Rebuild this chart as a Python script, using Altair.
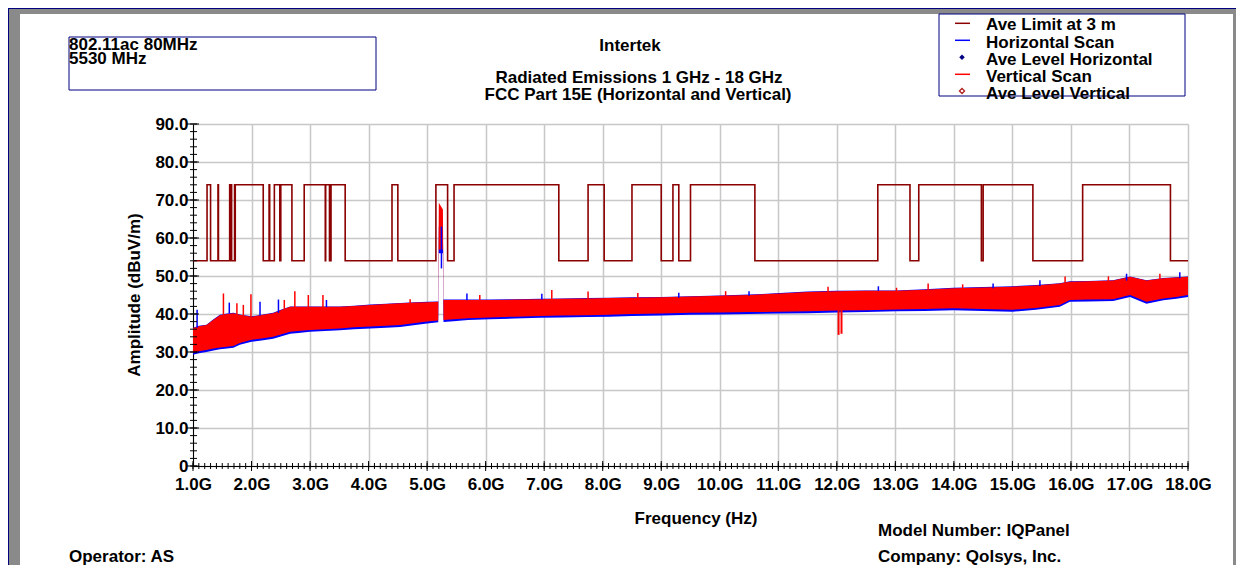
import altair as alt
import pandas as pd

# ------------------------------------------------------------------ data
# Average limit at 3 m (dBuV/m): step changes at restricted-band edges (GHz)
limit_freq = [1.0, 1.24, 1.3, 1.427, 1.435, 1.6265, 1.6455, 1.6465, 1.66, 1.71, 1.7188, 1.7222,
              2.2, 2.3, 2.31, 2.39, 2.4835, 2.5, 2.69, 2.9, 3.26, 3.267, 3.332, 3.339, 3.3458, 3.358,
              3.6, 4.4, 4.5, 5.15, 5.35, 5.46, 7.25, 7.75, 8.025, 8.5, 9.0, 9.2, 9.3, 9.5,
              10.6, 12.7, 13.25, 13.4, 14.47, 14.5, 15.35, 16.2, 17.7, 18.0]
limit_level = [54, 74, 54, 74, 54, 74, 54, 74, 54, 74, 54, 74,
               54, 74, 54, 74, 54, 74, 54, 74, 54, 74, 54, 74, 54, 74,
               54, 74, 54, 74, 54, 74, 54, 74, 54, 74, 54, 74, 54, 74,
               54, 74, 54, 74, 54, 74, 54, 74, 54, 54]

# Scan envelopes (GHz, dBuV/m)
scan_freq = [1.0, 1.1, 1.23, 1.35, 1.46, 1.58, 1.69, 1.8, 2.0, 2.2,
             2.37, 2.5, 2.66, 2.8, 3.0, 3.25, 3.51, 3.75, 4.03, 4.3,
             4.54, 4.8, 5.0, 5.19, 5.2, 5.27, 5.28, 5.45, 5.7, 6.07,
             6.5, 6.93, 7.3, 7.73, 8.1, 8.5, 9.0, 9.5, 10.0, 10.5,
             11.03, 11.5, 12.0, 12.5, 13.02, 13.5, 13.99, 14.5, 15.0, 15.4,
             15.81, 15.98, 16.3, 16.72, 17.01, 17.29, 17.58, 17.8, 18.0]
vert_lo = [29.8, 30.2, 30.5, 30.9, 31.2, 31.4, 31.6, 32.4, 33.2, 33.6,
           34.0, 34.6, 35.3, 35.5, 35.8, 36.0, 36.2, 36.5, 36.7, 36.9,
           37.1, 37.6, 38.0, 38.3, 57.0, 57.0, 38.4, 38.6, 38.9, 39.1,
           39.3, 39.5, 39.6, 39.7, 39.8, 40.0, 40.1, 40.3, 40.4, 40.5,
           40.6, 40.7, 40.9, 41.0, 41.2, 41.3, 41.5, 41.3, 41.1, 41.6,
           42.4, 43.7, 43.8, 43.9, 45.0, 43.2, 44.1, 44.5, 45.0]
vert_hi = [36.3, 36.8, 37.1, 38.5, 39.7, 40.0, 40.2, 39.8, 39.3, 39.8,
           40.2, 41.0, 41.9, 41.9, 41.9, 41.9, 41.9, 42.1, 42.4, 42.6,
           42.8, 43.0, 43.1, 43.2, 69.3, 67.5, 43.7, 43.7, 43.7, 43.7,
           43.8, 43.9, 44.0, 44.1, 44.2, 44.3, 44.4, 44.6, 44.8, 45.0,
           45.4, 45.8, 46.0, 46.1, 46.1, 46.4, 46.8, 47.0, 47.2, 47.5,
           48.0, 48.5, 48.6, 48.8, 49.8, 48.8, 49.4, 49.6, 49.8]
horiz_lo = [29.3, 29.7, 30.0, 30.4, 30.7, 30.9, 31.1, 31.9, 32.7, 33.1,
            33.5, 34.1, 34.8, 35.0, 35.3, 35.5, 35.7, 36.0, 36.2, 36.4,
            36.6, 37.1, 37.5, 37.8, 56.0, 56.0, 37.9, 38.1, 38.4, 38.6,
            38.8, 39.0, 39.1, 39.2, 39.3, 39.5, 39.6, 39.8, 39.9, 40.0,
            40.1, 40.2, 40.4, 40.5, 40.7, 40.8, 41.0, 40.8, 40.6, 41.1,
            41.9, 43.2, 43.3, 43.4, 44.5, 42.7, 43.6, 44.0, 44.5]
horiz_hi = [36.4, 36.9, 37.2, 38.6, 39.8, 40.1, 40.3, 39.9, 39.4, 39.9,
            40.3, 41.1, 42.0, 42.0, 42.0, 42.0, 42.0, 42.2, 42.5, 42.7,
            42.9, 43.1, 43.2, 43.3, 63.0, 62.0, 43.8, 43.8, 43.8, 43.8,
            43.9, 44.0, 44.1, 44.2, 44.3, 44.4, 44.5, 44.7, 44.9, 45.1,
            45.5, 45.9, 46.1, 46.2, 46.2, 46.5, 46.9, 47.1, 47.3, 47.6,
            48.1, 48.6, 48.7, 48.9, 49.9, 48.9, 49.5, 49.7, 49.9]

# individual peaks standing out of the envelopes
horiz_spike_f = [1.07, 1.62, 2.145, 2.46, 3.28, 5.245, 5.68, 6.96, 9.3, 10.5, 12.71, 14.67, 15.47, 16.95, 17.86]
horiz_spike_base = [36.4, 40.2, 39.6, 40.3, 41.8, 52.0, 43.6, 43.8, 44.3, 44.8, 46.1, 46.8, 47.4, 48.8, 49.4]
horiz_spike_peak = [41.1, 43.0, 43.2, 43.8, 43.7, 63.0, 45.4, 45.3, 45.6, 46.0, 47.3, 48.0, 48.9, 50.6, 51.0]

vert_spike_f = [1.52, 1.75, 1.86, 1.99, 2.56, 2.74, 2.97, 3.22, 4.71, 5.9, 7.13, 7.75, 8.6, 10.1,
                11.85, 13.02, 13.56, 14.15, 15.9, 16.64, 17.52]
vert_spike_base = [39.5, 39.5, 39.3, 38.8, 40.7, 41.4, 41.4, 41.4, 42.5, 43.2, 43.5, 43.6, 43.8, 44.3,
                   45.4, 45.6, 45.9, 46.3, 47.7, 48.2, 48.7]
vert_spike_peak = [45.4, 42.8, 42.4, 45.2, 43.7, 46.0, 45.0, 45.0, 43.9, 45.0, 46.3, 45.9, 45.5, 46.0,
                   47.2, 46.9, 48.0, 47.8, 49.9, 49.9, 50.6]

vert_dip_f = [12.03, 12.08]
vert_dip_base = [41.5, 41.5]
vert_dip_low = [34.5, 34.8]

x_tick_values = list(range(1, 19))
y_tick_values = list(range(0, 91, 10))
x_minor_ticks = [round(1 + 0.1 * i, 1) for i in range(171)]
y_minor_ticks = list(range(0, 91, 2))

legend_labels = ["Ave Limit at 3 m", "Horizontal Scan", "Ave Level Horizontal",
                 "Vertical Scan", "Ave Level Vertical"]

info_lines = ["802.11ac 80MHz", "5530 MHz"]
title_lines = ["Intertek", "Radiated Emissions 1 GHz - 18 GHz",
               "FCC Part 15E (Horizontal and Vertical)"]

# ------------------------------------------------------------------ layout
W, H = 995, 342          # plot area
PX, PY = 193, 124        # page position of plot origin
PAGE_R, PAGE_B = 1236, 565   # last page pixel the chart may cover
FONT = "Liberation Sans"
LIMIT_C = "#8b0000"
BLUE = "#0000ff"
RED = "#ff0000"
NAVY = "#000080"
GRAY = "#8a8a8a"

xs = alt.Scale(domain=[1, 18], nice=False, zero=False)
ys = alt.Scale(domain=[0, 90], nice=False, zero=False)

x_axis = alt.Axis(values=x_tick_values, labelExpr="format(datum.value, '.1f') + 'G'",
                  grid=True, gridColor="#c8c8c8", gridWidth=1.5, ticks=False,
                  domain=True, domainColor="black", domainWidth=1, title=None,
                  labelFont=FONT, labelFontSize=17, labelFontWeight="bold", labelColor="black",
                  labelPadding=10, labelFlush=False, labelOverlap=False)
y_axis = alt.Axis(values=y_tick_values,
                  labelExpr="datum.value == 0 ? '0' : format(datum.value, '.1f')",
                  grid=True, gridColor="#c8c8c8", gridWidth=1.5, ticks=False,
                  domain=True, domainColor="black", domainWidth=1, title=None,
                  labelFont=FONT, labelFontSize=17, labelFontWeight="bold", labelColor="black",
                  labelPadding=5, labelOverlap=False)

one = alt.Data(values=[{"a": 1}])


def X(p):
    return p - PX


def Y(p):
    return p - PY


def fx(field):
    return alt.X(field, type="quantitative", scale=xs, axis=x_axis)


def fy(field):
    return alt.Y(field, type="quantitative", scale=ys, axis=y_axis)


def text(txt, x, y, align="left", angle=0, size=17):
    kw = dict(text=txt, align=align, baseline="alphabetic", font=FONT, fontSize=size,
              fontWeight="bold", color="black")
    if angle:
        kw["angle"] = angle
    return alt.Chart(one).mark_text(**kw).encode(x=alt.value(X(x)), y=alt.value(Y(y)))


def box(x1, x2, y1, y2, fill=None, stroke=None, sw=1):
    kw = {}
    if fill:
        kw["fill"] = fill
    else:
        kw["fill"] = "white"
        kw["fillOpacity"] = 0
    if stroke:
        kw["stroke"] = stroke
        kw["strokeWidth"] = sw
    else:
        kw["strokeWidth"] = 0
    return alt.Chart(one).mark_rect(**kw).encode(
        x=alt.value(X(x1)), x2=alt.value(X(x2)), y=alt.value(Y(y1)), y2=alt.value(Y(y2)))


# ------------------------------------------------------------------ data layers
limit_df = pd.DataFrame({"f": limit_freq, "v": limit_level})
scan_df = pd.DataFrame({"f": scan_freq, "vlo": vert_lo, "vhi": vert_hi,
                        "hlo": horiz_lo, "hhi": horiz_hi})
hs_df = pd.DataFrame({"f": horiz_spike_f, "b": horiz_spike_base, "p": horiz_spike_peak})
vs_df = pd.DataFrame({"f": vert_spike_f, "b": vert_spike_base, "p": vert_spike_peak})
vd_df = pd.DataFrame({"f": vert_dip_f, "b": vert_dip_base, "p": vert_dip_low})

limit = alt.Chart(limit_df).mark_line(interpolate="step-after", color=LIMIT_C, strokeWidth=1.6).encode(
    x=fx("f"), y=fy("v"))
horiz = alt.Chart(scan_df).mark_area(color=BLUE).encode(
    x=fx("f"), y=fy("hlo"), y2="hhi:Q")
vert = alt.Chart(scan_df).mark_area(color=RED).encode(
    x=fx("f"), y=fy("vlo"), y2="vhi:Q")
hs = alt.Chart(hs_df).mark_rule(color=BLUE, strokeWidth=1.5).encode(x=fx("f"), y=fy("b"), y2="p:Q")
vs = alt.Chart(vs_df).mark_rule(color=RED, strokeWidth=1.5).encode(x=fx("f"), y=fy("b"), y2="p:Q")
vd = alt.Chart(vd_df).mark_rule(color=RED, strokeWidth=2).encode(x=fx("f"), y=fy("b"), y2="p:Q")

xmin = alt.Chart(pd.DataFrame({"f": x_minor_ticks})).mark_rule(color="black", strokeWidth=1).encode(
    x=fx("f"), y=alt.value(H - 3), y2=alt.value(H + 3))
xmaj = alt.Chart(pd.DataFrame({"f": x_tick_values})).mark_rule(color="black", strokeWidth=1).encode(
    x=fx("f"), y=alt.value(H - 5), y2=alt.value(H + 5))
ymin = alt.Chart(pd.DataFrame({"v": y_minor_ticks})).mark_rule(color="black", strokeWidth=1).encode(
    y=fy("v"), x=alt.value(-3), x2=alt.value(4))
ymaj = alt.Chart(pd.DataFrame({"v": y_tick_values})).mark_rule(color="black", strokeWidth=1).encode(
    y=fy("v"), x=alt.value(-6), x2=alt.value(6))

# ------------------------------------------------------------------ decorations
layers = [limit, horiz, vert, hs, vs, vd, xmin, xmaj, ymin, ymaj]
layers += [
    box(8, PAGE_R, 9, 14, fill=GRAY),
    box(8, 20, 9, PAGE_B, fill=GRAY),
    box(1233, PAGE_R, 9, PAGE_B, fill=GRAY),
    box(8, PAGE_R, 8, 9, fill=NAVY),
    box(8, 9, 8, PAGE_B, fill=NAVY),
    box(69, 376, 37, 90, stroke=NAVY),
    box(939, 1185, 14, 96, stroke=NAVY),
]

# header texts
layers.append(text(info_lines[0], 69, 49.5))
layers.append(text(info_lines[1], 69, 64))
layers.append(text(title_lines[0], 630, 50.5, align="center"))
layers.append(text(title_lines[1], 639, 83, align="center"))
layers.append(text(title_lines[2], 638, 99.5, align="center"))

# legend
sym_y = [23.3, 40.3, 57.3, 74.3, 91.0]
lab_y = [30.1, 48.4, 65.4, 82.1, 98.8]
for i, lab in enumerate(legend_labels):
    layers.append(text(lab, 986, lab_y[i]))
line_cols = {0: LIMIT_C, 1: BLUE, 3: RED}
for i, c in line_cols.items():
    layers.append(alt.Chart(one).mark_rule(color=c, strokeWidth=1.5).encode(
        x=alt.value(X(955)), x2=alt.value(X(970)), y=alt.value(Y(sym_y[i]))))
layers.append(alt.Chart(one).mark_point(shape="diamond", filled=True, color=NAVY, size=30, opacity=1).encode(
    x=alt.value(X(962)), y=alt.value(Y(sym_y[2]))))
layers.append(alt.Chart(one).mark_point(shape="diamond", filled=False, color="#b22222", size=26,
                                        strokeWidth=1.3, opacity=1).encode(
    x=alt.value(X(962)), y=alt.value(Y(sym_y[4]))))

# axis titles and footer
layers.append(text("Frequency (Hz)", 696, 524, align="center"))
layers.append(text("Amplitude (dBuV/m)", 140, 295, align="center", angle=270))
layers.append(text("Model Number: IQPanel", 878, 536))
layers.append(text("Company: Qolsys, Inc.", 878, 562))
layers.append(text("Operator: AS", 69, 562))

chart = alt.layer(*layers).properties(
    width=W, height=H,
    autosize=alt.AutoSizeParams(type="none"),
    padding={"left": PX - 8, "top": PY - 8, "right": PAGE_R - PX - W, "bottom": PAGE_B - PY - H},
    background="white",
).configure_view(strokeWidth=0)

chart.save("out.html", embed_options={"renderer": "svg", "actions": False})
